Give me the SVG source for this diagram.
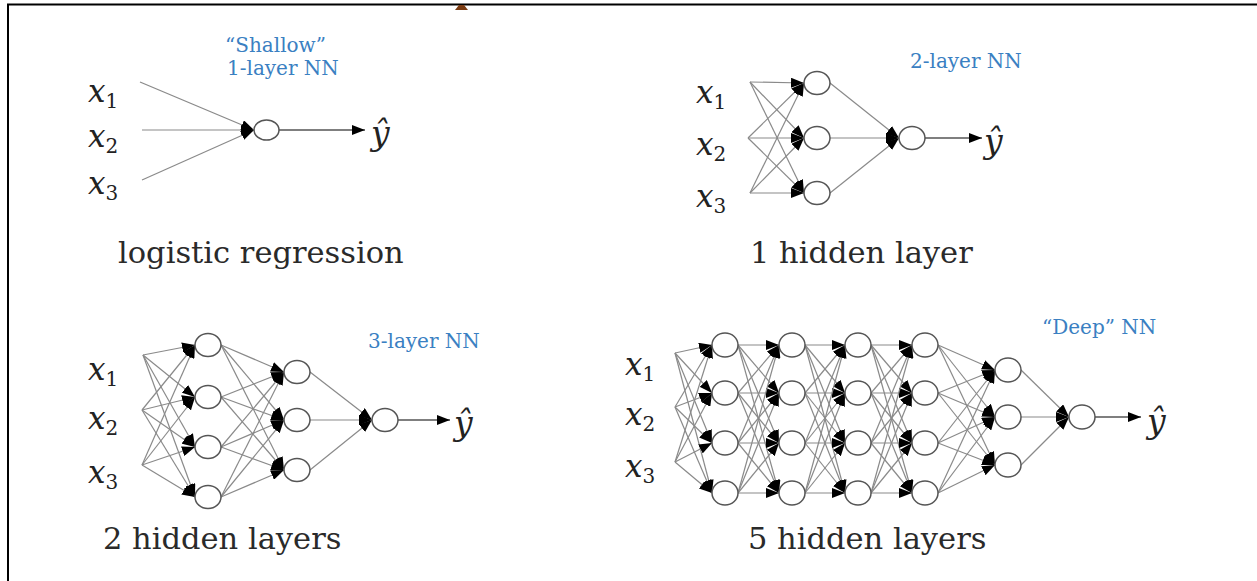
<svg xmlns="http://www.w3.org/2000/svg" width="1257" height="581" viewBox="0 0 1257 581">
<style>
.bg{fill:#ffffff}
.frame{stroke:#000;stroke-width:2;fill:none}
.c{stroke:#8a8a8a;stroke-width:1.2;fill:none;marker-end:url(#ah)}
.o{stroke:#555;stroke-width:1.3;fill:none;marker-end:url(#ah)}
.n{fill:#fff;stroke:#555;stroke-width:1.5}
.mx{font-family:"DejaVu Serif",serif;font-style:italic;font-size:31px;fill:#222}
.sub{font-family:"DejaVu Serif",serif;font-style:normal;font-size:20px}
.yh{font-family:"DejaVu Serif",serif;font-style:italic;font-size:33px;fill:#222}
.title{font-family:"DejaVu Serif",serif;font-size:30.5px;fill:#2a2a2a}
.blue{font-family:"DejaVu Serif",serif;font-size:20px;fill:#3a80c2}
</style>
<defs>
<marker id="ah" markerUnits="userSpaceOnUse" markerWidth="13" markerHeight="10" refX="13" refY="5" orient="auto">
<path d="M0,0 L13,5 L0,10 z" fill="#000"/>
</marker>
</defs>
<rect class="bg" x="0" y="0" width="1257" height="581"/>
<path class="frame" d="M8,581 L8,4.5 L1257,4.5"/>
<path d="M455,10 L459,5 L464,5 L468,10 z" fill="#7a3b12"/>

<g id="connectors">
<!-- panel 1 -->
<line class="c" x1="140" y1="82" x2="254" y2="130"/>
<line class="c" x1="142" y1="130" x2="254" y2="130"/>
<line class="c" x1="142" y1="180" x2="254" y2="130"/>
<line class="o" x1="279" y1="130" x2="365" y2="130"/>
<!-- panel 2 -->
<line class="c" x1="750" y1="82" x2="804" y2="83"/>
<line class="c" x1="750" y1="82" x2="804" y2="138"/>
<line class="c" x1="750" y1="82" x2="804" y2="193"/>
<line class="c" x1="748" y1="138" x2="804" y2="83"/>
<line class="c" x1="748" y1="138" x2="804" y2="138"/>
<line class="c" x1="748" y1="138" x2="804" y2="193"/>
<line class="c" x1="750" y1="193" x2="804" y2="83"/>
<line class="c" x1="750" y1="193" x2="804" y2="138"/>
<line class="c" x1="750" y1="193" x2="804" y2="193"/>
<line class="c" x1="830" y1="83" x2="899" y2="138"/>
<line class="c" x1="830" y1="138" x2="899" y2="138"/>
<line class="c" x1="830" y1="193" x2="899" y2="138"/>
<line class="o" x1="925" y1="138" x2="982" y2="138"/>
<!-- panel 3 -->
<line class="c" x1="143" y1="355" x2="195" y2="345"/>
<line class="c" x1="143" y1="355" x2="195" y2="397"/>
<line class="c" x1="143" y1="355" x2="195" y2="447"/>
<line class="c" x1="143" y1="355" x2="195" y2="497"/>
<line class="c" x1="142" y1="410" x2="195" y2="345"/>
<line class="c" x1="142" y1="410" x2="195" y2="397"/>
<line class="c" x1="142" y1="410" x2="195" y2="447"/>
<line class="c" x1="142" y1="410" x2="195" y2="497"/>
<line class="c" x1="142" y1="465" x2="195" y2="345"/>
<line class="c" x1="142" y1="465" x2="195" y2="397"/>
<line class="c" x1="142" y1="465" x2="195" y2="447"/>
<line class="c" x1="142" y1="465" x2="195" y2="497"/>
<line class="c" x1="221" y1="345" x2="284" y2="372"/>
<line class="c" x1="221" y1="345" x2="284" y2="420"/>
<line class="c" x1="221" y1="345" x2="284" y2="470"/>
<line class="c" x1="221" y1="397" x2="284" y2="372"/>
<line class="c" x1="221" y1="397" x2="284" y2="420"/>
<line class="c" x1="221" y1="397" x2="284" y2="470"/>
<line class="c" x1="221" y1="447" x2="284" y2="372"/>
<line class="c" x1="221" y1="447" x2="284" y2="420"/>
<line class="c" x1="221" y1="447" x2="284" y2="470"/>
<line class="c" x1="221" y1="497" x2="284" y2="372"/>
<line class="c" x1="221" y1="497" x2="284" y2="420"/>
<line class="c" x1="221" y1="497" x2="284" y2="470"/>
<line class="c" x1="310" y1="372" x2="372" y2="420"/>
<line class="c" x1="310" y1="420" x2="372" y2="420"/>
<line class="c" x1="310" y1="470" x2="372" y2="420"/>
<line class="o" x1="398" y1="420" x2="450" y2="420"/>
<!-- panel 4: input to L1 -->
<line class="c" x1="675" y1="353" x2="712" y2="345"/>
<line class="c" x1="675" y1="353" x2="712" y2="393"/>
<line class="c" x1="675" y1="353" x2="712" y2="443"/>
<line class="c" x1="675" y1="353" x2="712" y2="493"/>
<line class="c" x1="675" y1="407" x2="712" y2="345"/>
<line class="c" x1="675" y1="407" x2="712" y2="393"/>
<line class="c" x1="675" y1="407" x2="712" y2="443"/>
<line class="c" x1="675" y1="407" x2="712" y2="493"/>
<line class="c" x1="675" y1="462" x2="712" y2="345"/>
<line class="c" x1="675" y1="462" x2="712" y2="393"/>
<line class="c" x1="675" y1="462" x2="712" y2="443"/>
<line class="c" x1="675" y1="462" x2="712" y2="493"/>
<!-- L1 to L2 -->
<line class="c" x1="738" y1="345" x2="779" y2="345"/>
<line class="c" x1="738" y1="345" x2="779" y2="393"/>
<line class="c" x1="738" y1="345" x2="779" y2="443"/>
<line class="c" x1="738" y1="345" x2="779" y2="493"/>
<line class="c" x1="738" y1="393" x2="779" y2="345"/>
<line class="c" x1="738" y1="393" x2="779" y2="393"/>
<line class="c" x1="738" y1="393" x2="779" y2="443"/>
<line class="c" x1="738" y1="393" x2="779" y2="493"/>
<line class="c" x1="738" y1="443" x2="779" y2="345"/>
<line class="c" x1="738" y1="443" x2="779" y2="393"/>
<line class="c" x1="738" y1="443" x2="779" y2="443"/>
<line class="c" x1="738" y1="443" x2="779" y2="493"/>
<line class="c" x1="738" y1="493" x2="779" y2="345"/>
<line class="c" x1="738" y1="493" x2="779" y2="393"/>
<line class="c" x1="738" y1="493" x2="779" y2="443"/>
<line class="c" x1="738" y1="493" x2="779" y2="493"/>
<!-- L2 to L3 -->
<line class="c" x1="805" y1="345" x2="845" y2="345"/>
<line class="c" x1="805" y1="345" x2="845" y2="393"/>
<line class="c" x1="805" y1="345" x2="845" y2="443"/>
<line class="c" x1="805" y1="345" x2="845" y2="493"/>
<line class="c" x1="805" y1="393" x2="845" y2="345"/>
<line class="c" x1="805" y1="393" x2="845" y2="393"/>
<line class="c" x1="805" y1="393" x2="845" y2="443"/>
<line class="c" x1="805" y1="393" x2="845" y2="493"/>
<line class="c" x1="805" y1="443" x2="845" y2="345"/>
<line class="c" x1="805" y1="443" x2="845" y2="393"/>
<line class="c" x1="805" y1="443" x2="845" y2="443"/>
<line class="c" x1="805" y1="443" x2="845" y2="493"/>
<line class="c" x1="805" y1="493" x2="845" y2="345"/>
<line class="c" x1="805" y1="493" x2="845" y2="393"/>
<line class="c" x1="805" y1="493" x2="845" y2="443"/>
<line class="c" x1="805" y1="493" x2="845" y2="493"/>
<!-- L3 to L4 -->
<line class="c" x1="871" y1="345" x2="912" y2="345"/>
<line class="c" x1="871" y1="345" x2="912" y2="393"/>
<line class="c" x1="871" y1="345" x2="912" y2="443"/>
<line class="c" x1="871" y1="345" x2="912" y2="493"/>
<line class="c" x1="871" y1="393" x2="912" y2="345"/>
<line class="c" x1="871" y1="393" x2="912" y2="393"/>
<line class="c" x1="871" y1="393" x2="912" y2="443"/>
<line class="c" x1="871" y1="393" x2="912" y2="493"/>
<line class="c" x1="871" y1="443" x2="912" y2="345"/>
<line class="c" x1="871" y1="443" x2="912" y2="393"/>
<line class="c" x1="871" y1="443" x2="912" y2="443"/>
<line class="c" x1="871" y1="443" x2="912" y2="493"/>
<line class="c" x1="871" y1="493" x2="912" y2="345"/>
<line class="c" x1="871" y1="493" x2="912" y2="393"/>
<line class="c" x1="871" y1="493" x2="912" y2="443"/>
<line class="c" x1="871" y1="493" x2="912" y2="493"/>
<!-- L4 to L5 -->
<line class="c" x1="938" y1="345" x2="995" y2="370"/>
<line class="c" x1="938" y1="345" x2="995" y2="417"/>
<line class="c" x1="938" y1="345" x2="995" y2="465"/>
<line class="c" x1="938" y1="393" x2="995" y2="370"/>
<line class="c" x1="938" y1="393" x2="995" y2="417"/>
<line class="c" x1="938" y1="393" x2="995" y2="465"/>
<line class="c" x1="938" y1="443" x2="995" y2="370"/>
<line class="c" x1="938" y1="443" x2="995" y2="417"/>
<line class="c" x1="938" y1="443" x2="995" y2="465"/>
<line class="c" x1="938" y1="493" x2="995" y2="370"/>
<line class="c" x1="938" y1="493" x2="995" y2="417"/>
<line class="c" x1="938" y1="493" x2="995" y2="465"/>
<!-- L5 to out -->
<line class="c" x1="1021" y1="370" x2="1069" y2="417"/>
<line class="c" x1="1021" y1="417" x2="1069" y2="417"/>
<line class="c" x1="1021" y1="465" x2="1069" y2="417"/>
<line class="o" x1="1095" y1="417" x2="1141" y2="417"/>
</g>

<!-- Panel 1 -->
<g id="p1-inputs">
<text class="mx" x="88" y="102">x<tspan class="sub" dy="6">1</tspan></text>
<text class="mx" x="88" y="147">x<tspan class="sub" dy="6">2</tspan></text>
<text class="mx" x="88" y="194">x<tspan class="sub" dy="6">3</tspan></text>
</g>
<g id="p1-out"><ellipse class="n" cx="266.5" cy="130" rx="12.5" ry="10"/></g>
<g id="p1-yhat"><text class="yh" x="371" y="145">ŷ</text></g>
<g id="p1-labels">
<text class="blue" x="225" y="52">“Shallow”</text>
<text class="blue" x="227" y="75">1-layer NN</text>
<text class="title" x="118" y="263">logistic regression</text>
</g>

<!-- Panel 2 -->
<g id="p2-inputs">
<text class="mx" x="696" y="103">x<tspan class="sub" dy="6">1</tspan></text>
<text class="mx" x="696" y="155">x<tspan class="sub" dy="6">2</tspan></text>
<text class="mx" x="696" y="207">x<tspan class="sub" dy="6">3</tspan></text>
</g>
<g id="p2-h1"><ellipse class="n" cx="817" cy="83" rx="13" ry="11.5"/></g>
<g id="p2-h2"><ellipse class="n" cx="817" cy="138" rx="13" ry="11.5"/></g>
<g id="p2-h3"><ellipse class="n" cx="817" cy="193" rx="13" ry="11.5"/></g>
<g id="p2-out"><ellipse class="n" cx="912" cy="138" rx="13" ry="11.5"/></g>
<g id="p2-yhat"><text class="yh" x="984" y="153">ŷ</text></g>
<g id="p2-labels">
<text class="blue" x="910" y="68">2-layer NN</text>
<text class="title" x="750" y="263">1 hidden layer</text>
</g>

<!-- Panel 3 -->
<g id="p3-inputs">
<text class="mx" x="88" y="380">x<tspan class="sub" dy="6">1</tspan></text>
<text class="mx" x="88" y="429">x<tspan class="sub" dy="6">2</tspan></text>
<text class="mx" x="88" y="483">x<tspan class="sub" dy="6">3</tspan></text>
</g>
<g id="p3-a1"><ellipse class="n" cx="208" cy="345" rx="13" ry="11.5"/></g>
<g id="p3-a2"><ellipse class="n" cx="208" cy="397" rx="13" ry="11.5"/></g>
<g id="p3-a3"><ellipse class="n" cx="208" cy="447" rx="13" ry="11.5"/></g>
<g id="p3-a4"><ellipse class="n" cx="208" cy="497" rx="13" ry="11.5"/></g>
<g id="p3-b1"><ellipse class="n" cx="297" cy="372" rx="13" ry="11.5"/></g>
<g id="p3-b2"><ellipse class="n" cx="297" cy="420" rx="13" ry="11.5"/></g>
<g id="p3-b3"><ellipse class="n" cx="297" cy="470" rx="13" ry="11.5"/></g>
<g id="p3-out"><ellipse class="n" cx="385" cy="420" rx="13" ry="11.5"/></g>
<g id="p3-yhat"><text class="yh" x="454" y="435">ŷ</text></g>
<g id="p3-labels">
<text class="blue" x="368" y="348">3-layer NN</text>
<text class="title" x="103" y="549">2 hidden layers</text>
</g>

<!-- Panel 4 -->
<g id="p4-inputs">
<text class="mx" x="625" y="375">x<tspan class="sub" dy="6">1</tspan></text>
<text class="mx" x="625" y="425">x<tspan class="sub" dy="6">2</tspan></text>
<text class="mx" x="625" y="477">x<tspan class="sub" dy="6">3</tspan></text>
</g>
<g id="p4-l1">
<ellipse class="n" cx="725" cy="345" rx="13" ry="12"/>
<ellipse class="n" cx="725" cy="393" rx="13" ry="12"/>
<ellipse class="n" cx="725" cy="443" rx="13" ry="12"/>
<ellipse class="n" cx="725" cy="493" rx="13" ry="12"/>
</g>
<g id="p4-l2">
<ellipse class="n" cx="792" cy="345" rx="13" ry="12"/>
<ellipse class="n" cx="792" cy="393" rx="13" ry="12"/>
<ellipse class="n" cx="792" cy="443" rx="13" ry="12"/>
<ellipse class="n" cx="792" cy="493" rx="13" ry="12"/>
</g>
<g id="p4-l3">
<ellipse class="n" cx="858" cy="345" rx="13" ry="12"/>
<ellipse class="n" cx="858" cy="393" rx="13" ry="12"/>
<ellipse class="n" cx="858" cy="443" rx="13" ry="12"/>
<ellipse class="n" cx="858" cy="493" rx="13" ry="12"/>
</g>
<g id="p4-l4">
<ellipse class="n" cx="925" cy="345" rx="13" ry="12"/>
<ellipse class="n" cx="925" cy="393" rx="13" ry="12"/>
<ellipse class="n" cx="925" cy="443" rx="13" ry="12"/>
<ellipse class="n" cx="925" cy="493" rx="13" ry="12"/>
</g>
<g id="p4-l5">
<ellipse class="n" cx="1008" cy="370" rx="13" ry="12"/>
<ellipse class="n" cx="1008" cy="417" rx="13" ry="12"/>
<ellipse class="n" cx="1008" cy="465" rx="13" ry="12"/>
</g>
<g id="p4-out"><ellipse class="n" cx="1082" cy="417" rx="13" ry="12"/></g>
<g id="p4-yhat"><text class="yh" x="1147" y="433">ŷ</text></g>
<g id="p4-labels">
<text class="blue" x="1042" y="334">“Deep” NN</text>
<text class="title" x="748" y="549">5 hidden layers</text>
</g>
</svg>
